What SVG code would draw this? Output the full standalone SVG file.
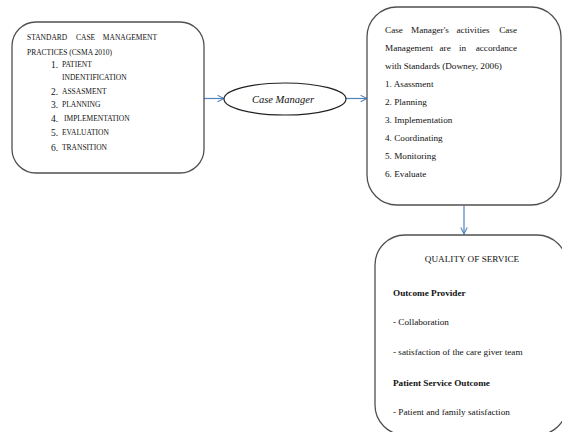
<svg xmlns="http://www.w3.org/2000/svg" width="562" height="432" viewBox="0 0 562 432">
<defs>
<marker id="arr" viewBox="0 0 10 10" refX="9" refY="5" markerWidth="8" markerHeight="8" markerUnits="userSpaceOnUse" orient="auto">
<path d="M1,1 L9,5 L1,9" fill="none" stroke="#4f81bd" stroke-width="1.3"/>
</marker>
<style>
.box{fill:#fff;stroke:#505050;stroke-width:1.3}
.c{fill:none;stroke:#4f81bd;stroke-width:1.2}
text{font-family:"Liberation Serif","Times New Roman",serif;fill:#111}
.sc{font-size:7.5px}
.num{font-size:9.5px}
.t{font-size:9.2px}
.b{font-weight:bold}
.e{text-anchor:end}
</style>
</defs>
<rect width="562" height="432" fill="#fff"/>
<g id="connectors">
<line class="c" x1="204" y1="98.5" x2="224" y2="98.5" marker-end="url(#arr)"/>
<line class="c" x1="346" y1="98.5" x2="367" y2="98.5" marker-end="url(#arr)"/>
<line class="c" x1="464" y1="206" x2="464" y2="234" marker-end="url(#arr)"/>
</g>
<g id="standards">
<rect class="box" x="12" y="22" width="192" height="151" rx="24"/>
<text class="sc" x="27" y="40">STANDARD</text>
<text class="sc" x="76" y="40">CASE</text>
<text class="sc e" x="157" y="40">MANAGEMENT</text>
<text class="sc" x="27" y="55">PRACTICES (CSMA 2010)</text>
<text class="num" x="51" y="68">1.</text><text class="sc" x="62" y="67">PATIENT</text>
<text class="sc" x="62" y="80">INDENTIFICATION</text>
<text class="num" x="51" y="95">2.</text><text class="sc" x="62" y="94">ASSASMENT</text>
<text class="num" x="51" y="108">3.</text><text class="sc" x="62" y="107">PLANNING</text>
<text class="num" x="51" y="122">4.</text><text class="sc" x="64" y="121">IMPLEMENTATION</text>
<text class="num" x="51" y="136">5.</text><text class="sc" x="62" y="135">EVALUATION</text>
<text class="num" x="51" y="151">6.</text><text class="sc" x="62" y="150">TRANSITION</text>
</g>
<g id="case-manager">
<ellipse cx="285" cy="99" rx="61" ry="16" fill="#fff" stroke="#222" stroke-width="1.2"/>
<text x="283" y="102.5" font-size="10.5px" font-style="italic" text-anchor="middle">Case Manager</text>
</g>
<g id="activities">
<rect class="box" x="367" y="7" width="194" height="198" rx="30"/>
<text class="t" x="385" y="33">Case</text>
<text class="t" x="411" y="33">Manager's</text>
<text class="t" x="456.5" y="33">activities</text>
<text class="t e" x="517" y="33">Case</text>
<text class="t" x="385" y="51">Management</text>
<text class="t" x="439.5" y="51">are</text>
<text class="t" x="459" y="51">in</text>
<text class="t e" x="517" y="51">accordance</text>
<text class="t" x="385" y="69">with Standards (Downey, 2006)</text>
<text class="t" x="385" y="87">1. Asassment</text>
<text class="t" x="385" y="105">2. Planning</text>
<text class="t" x="385" y="123">3. Implementation</text>
<text class="t" x="385" y="141">4. Coordinating</text>
<text class="t" x="385" y="159">5. Monitoring</text>
<text class="t" x="385" y="177">6. Evaluate</text>
</g>
<g id="quality">
<rect class="box" x="375" y="235" width="192" height="200" rx="30"/>
<text class="t" x="472" y="262" text-anchor="middle">QUALITY OF SERVICE</text>
<text class="t b" x="393" y="296">Outcome Provider</text>
<text class="t" x="393" y="325">- Collaboration</text>
<text class="t" x="393" y="355">- satisfaction of the care giver team</text>
<text class="t b" x="393" y="386">Patient Service Outcome</text>
<text class="t" x="393" y="415">- Patient and family satisfaction</text>
</g>
</svg>
